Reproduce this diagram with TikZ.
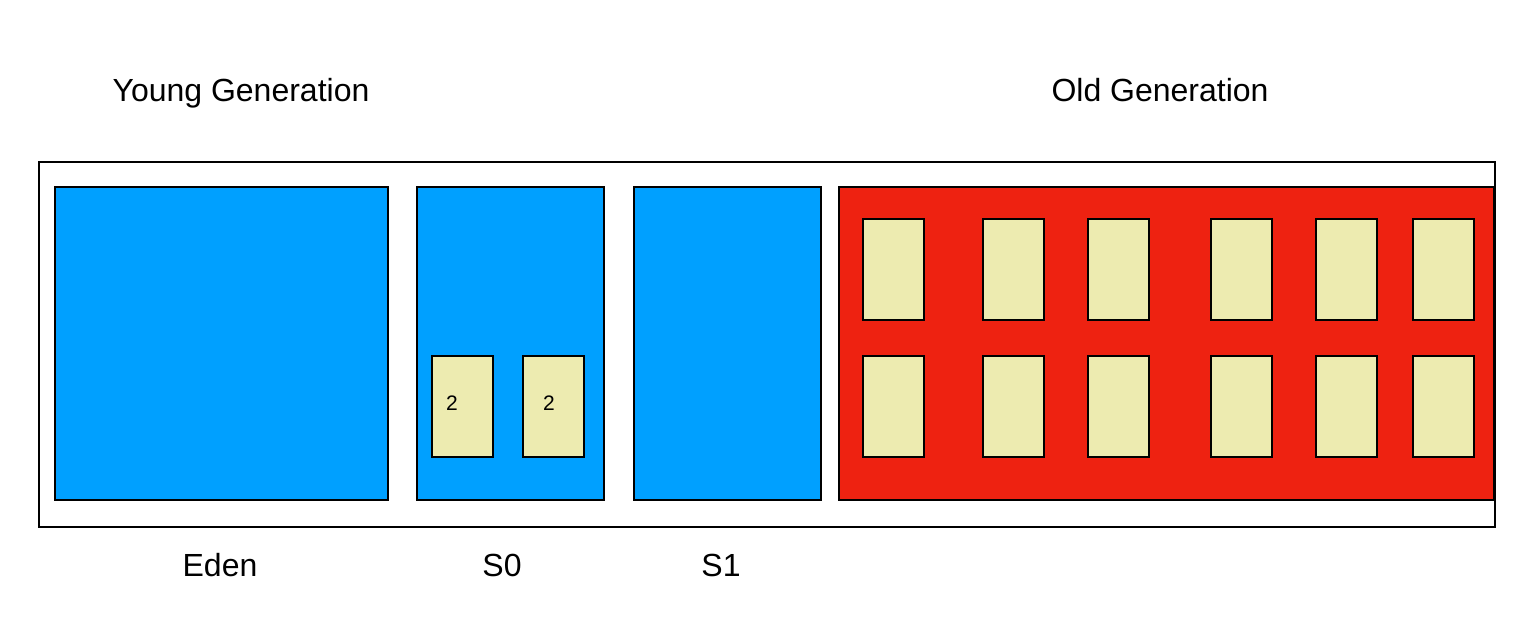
\documentclass[tikz,border=0pt]{standalone}
\usepackage{fontspec}
\setmainfont{Liberation Sans}
\usepackage{xcolor}
\usepackage{tikz}
\usetikzlibrary{positioning}

\definecolor{spaceblue}{HTML}{00A0FF}
\definecolor{oldred}{HTML}{EE2211}
\definecolor{objyellow}{HTML}{EDEBB0}

\begin{document}
\begin{tikzpicture}[x=0.5pt, y=-0.5pt, line width=1pt,
    area/.style={draw, fill=spaceblue, anchor=north west, inner sep=0pt, minimum width=93.5pt, minimum height=156.5pt},
    obj/.style={draw, fill=objyellow, anchor=north west, inner sep=0pt, minimum width=30.5pt, minimum height=50.5pt},
    title/.style={anchor=base, inner sep=0pt, font=\fontsize{16}{19}\selectfont},
    num/.style={anchor=base, inner sep=0pt, font=\fontsize{10.5}{12}\selectfont}]
        \useasboundingbox (0,0) rectangle (1532,624);

        \node[title] (young) at (241,102) {Young Generation};
        \node[title] (old) at (1160,102) {Old Generation};

        \node[draw, anchor=north west, inner sep=0pt, minimum width=728pt, minimum height=182.5pt] (heap) at (38,161) {};

        \node[area, minimum width=166.5pt] (eden) at (54,186) {};
        \node[area] (S0) at (416,186) {};
        \node[area] (S1) at (633,186) {};
        \node[area, fill=oldred, minimum width=327.5pt] (tenured) at (838,186) {};

        % objects in S0
        \node[obj] (a1) at (431,355) {};
        \node[obj] (a2) at (522,355) {};
        \node[num] (age1) at (452,411) {2};
        \node[num] (age2) at (549,411) {2};

        % objects in old generation
        \node[obj] (b1) at (862,218) {};
        \node[obj] (b2) at (982,218) {};
        \node[obj] (b3) at (1087,218) {};
        \node[obj] (b4) at (1210,218) {};
        \node[obj] (b5) at (1315,218) {};
        \node[obj] (b6) at (1412,218) {};

        \node[obj] (c1) at (862,355) {};
        \node[obj] (c2) at (982,355) {};
        \node[obj] (c3) at (1087,355) {};
        \node[obj] (c4) at (1210,355) {};
        \node[obj] (c5) at (1315,355) {};
        \node[obj] (c6) at (1412,355) {};

        \node[title] (edenlabel) at (220,577) {Eden};
        \node[title] (S0label) at (502,577) {S0};
        \node[title] (S1label) at (721,577) {S1};
\end{tikzpicture}
\end{document}
